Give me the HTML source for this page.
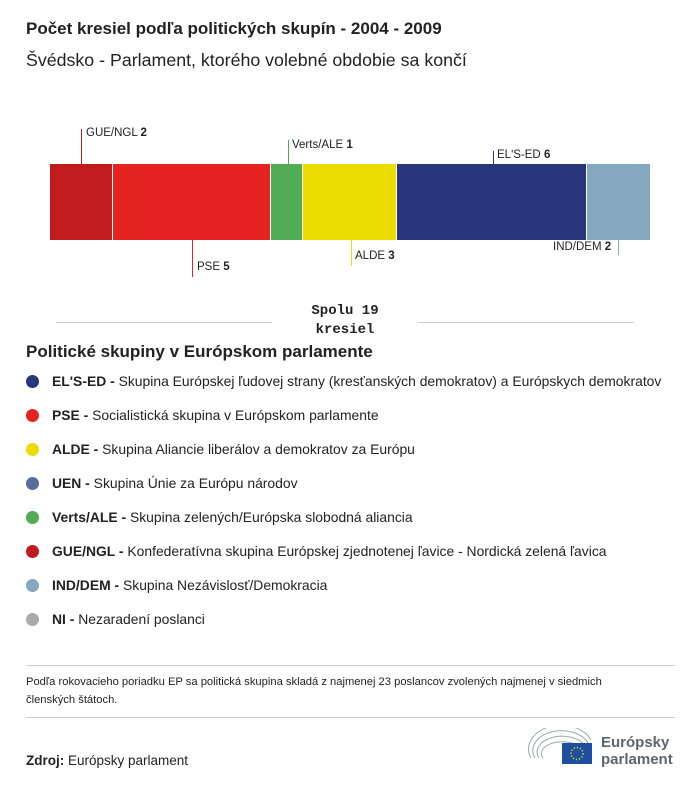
<!DOCTYPE html>
<html><head><meta charset="utf-8"><style>
body{margin:0;width:700px;height:786px;background:#fff;font-family:"Liberation Sans",sans-serif;color:#222;position:relative;overflow:hidden}
.a{position:absolute;white-space:nowrap}
.seg{position:absolute;top:164px;height:76px}
.ln{position:absolute;width:1px}
.lb{position:absolute;font-size:11.5px;white-space:nowrap}
.dot{position:absolute;left:26px;width:13px;height:13px;border-radius:50%}
.lg{position:absolute;left:52px;font-size:13.9px;white-space:nowrap}
</style></head><body>
<div class="a" style="left:26px;top:19px;font-size:17px;font-weight:bold">Počet kresiel podľa politických skupín - 2004 - 2009</div>
<div class="a" style="left:26px;top:50px;font-size:17.8px">Švédsko - Parlament, ktorého volebné obdobie sa končí</div>

<div class="seg" style="left:50px;width:62px;background:#c01c1e"></div>
<div class="seg" style="left:113px;width:157px;background:#e52422"></div>
<div class="seg" style="left:271px;width:31px;background:#51ac55"></div>
<div class="seg" style="left:303px;width:93px;background:#ecdc00"></div>
<div class="seg" style="left:397px;width:189px;background:#28367c"></div>
<div class="seg" style="left:587px;width:63px;background:#84a9bf"></div>

<div class="ln" style="left:81px;top:129px;height:35px;background:#c01c1e"></div>
<div class="lb" style="left:86px;top:127px">GUE/NGL <b>2</b></div>
<div class="ln" style="left:288px;top:140px;height:24px;background:#51ac55"></div>
<div class="lb" style="left:292px;top:139px">Verts/ALE <b>1</b></div>
<div class="ln" style="left:493px;top:151px;height:13px;background:#28367c"></div>
<div class="lb" style="left:497px;top:149px">ELʹS-ED <b>6</b></div>
<div class="ln" style="left:192px;top:240px;height:37px;background:#e52422"></div>
<div class="lb" style="left:197px;top:261px">PSE <b>5</b></div>
<div class="ln" style="left:351px;top:240px;height:26px;background:#ecdc00"></div>
<div class="lb" style="left:355px;top:250px">ALDE <b>3</b></div>
<div class="ln" style="left:618px;top:240px;height:15px;background:#84a9bf"></div>
<div class="lb" style="left:553px;top:241px">IND/DEM <b>2</b></div>

<div class="a" style="left:56px;top:322px;width:216px;height:1px;background:#ccc"></div>
<div class="a" style="left:418px;top:322px;width:216px;height:1px;background:#ccc"></div>
<div class="a" style="left:272px;top:302px;width:146px;text-align:center;font-family:'Liberation Mono',monospace;font-weight:bold;font-size:14px;line-height:19px">Spolu 19<br>kresiel</div>

<div class="a" style="left:26px;top:342px;font-size:17px;font-weight:bold">Politické skupiny v Európskom parlamente</div>
<div class="dot" style="top:375px;background:#28367c"></div><div class="lg" style="top:373px"><b>ELʹS-ED -</b> Skupina Európskej ľudovej strany (kresťanských demokratov) a Európskych demokratov</div>
<div class="dot" style="top:409px;background:#e52422"></div><div class="lg" style="top:407px"><b>PSE -</b> Socialistická skupina v Európskom parlamente</div>
<div class="dot" style="top:443px;background:#ecdc00"></div><div class="lg" style="top:441px"><b>ALDE -</b> Skupina Aliancie liberálov a demokratov za Európu</div>
<div class="dot" style="top:477px;background:#5a6d9b"></div><div class="lg" style="top:475px"><b>UEN -</b> Skupina Únie za Európu národov</div>
<div class="dot" style="top:511px;background:#51ac55"></div><div class="lg" style="top:509px"><b>Verts/ALE -</b> Skupina zelených/Európska slobodná aliancia</div>
<div class="dot" style="top:545px;background:#c01c1e"></div><div class="lg" style="top:543px"><b>GUE/NGL -</b> Konfederatívna skupina Európskej zjednotenej ľavice - Nordická zelená ľavica</div>
<div class="dot" style="top:579px;background:#84a9bf"></div><div class="lg" style="top:577px"><b>IND/DEM -</b> Skupina Nezávislosť/Demokracia</div>
<div class="dot" style="top:613px;background:#aaa"></div><div class="lg" style="top:611px"><b>NI -</b> Nezaradení poslanci</div>

<div class="a" style="left:26px;top:665px;width:649px;height:1px;background:#ccc"></div>
<div class="a" style="left:26px;top:673px;font-size:11.2px;line-height:18px;white-space:normal;width:610px">Podľa rokovacieho poriadku EP sa politická skupina skladá z najmenej 23 poslancov zvolených najmenej v siedmich členských štátoch.</div>
<div class="a" style="left:26px;top:717px;width:649px;height:1px;background:#ccc"></div>
<div class="a" style="left:26px;top:753px;font-size:13.5px"><b>Zdroj:</b> Európsky parlament</div>

<svg class="a" style="left:528px;top:728px" width="70" height="40" viewBox="0 0 70 40">
<g fill="none" stroke="#9aa" stroke-width="1">
<path d="M3 30 A30 22 0 0 1 63 12"/><path d="M7 30 A26 18 0 0 1 60 15"/><path d="M11 30 A22 14 0 0 1 57 18"/><path d="M15 30 A18 10 0 0 1 54 21"/></g>
<rect x="34" y="15" width="30" height="21" fill="#1d4fa0"/>
<circle cx="49" cy="25.5" r="6" fill="none" stroke="#ffd700" stroke-width="1.5" stroke-dasharray="1.2 1.9"/>
</svg>
<div class="a" style="left:601px;top:734px;font-size:15px;font-weight:bold;color:#5c6670;line-height:17px">Európsky<br>parlament</div>
</body></html>
